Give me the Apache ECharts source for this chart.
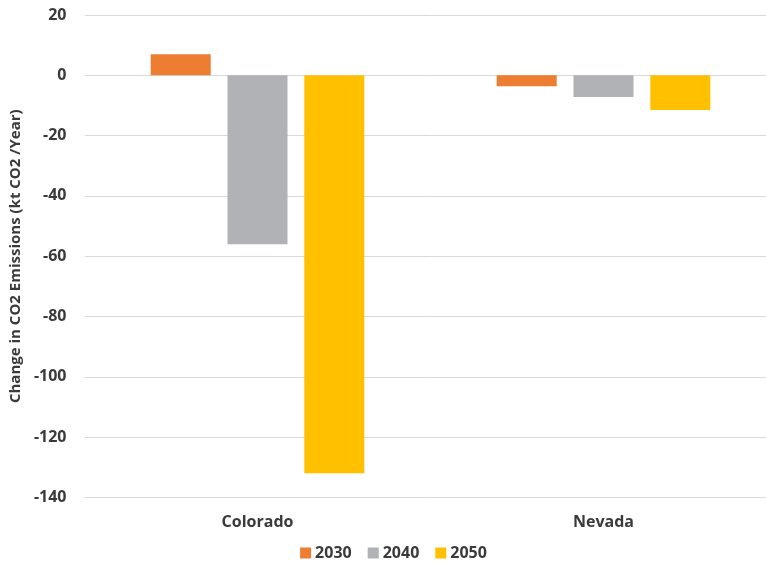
<!DOCTYPE html>
<html>
<head>
<meta charset="utf-8">
<script src="https://cdn.jsdelivr.net/npm/echarts@6/dist/echarts.min.js"></script>
<style>
  html, body { margin: 0; padding: 0; background: #fff; overflow: hidden; }
  #chart { width: 787px; height: 564px; }
</style>
</head>
<body>
<div id="chart"></div>
<script>
// Change in CO2 emissions by state and target year
const states = ['Colorado', 'Nevada'];
const years = ['2030', '2040', '2050'];
const values2030 = [7.0, -3.6];
const values2040 = [-56.0, -7.2];
const values2050 = [-132.0, -11.5];
const yTicks = { min: -140, max: 20, step: 20 };

const colors = ['#ED7D31', '#B1B2B5', '#FFC000'];
const seriesValues = [values2030, values2040, values2050];
const textColor = '#3A3A3A';
const fontFamily = '"Open Sans", "Noto Sans", sans-serif';

const chart = echarts.init(document.getElementById('chart'), null, { renderer: 'canvas' });

chart.setOption({
  animation: false,
  textStyle: { fontFamily: fontFamily },
  grid: { left: 84.5, top: 15, right: 10.5, bottom: 66.6, containLabel: false },
  legend: {
    data: years,
    bottom: -2,
    left: 'center',
    itemWidth: 11,
    itemHeight: 11,
    itemGap: 16,
    icon: 'rect',
    textStyle: { color: textColor, fontSize: 16, fontWeight: 'bold', fontFamily: fontFamily, padding: [0, 0, 0, -1] }
  },
  xAxis: {
    type: 'category',
    data: states,
    position: 'bottom',
    axisLine: { show: false },
    axisTick: { show: false },
    axisLabel: { color: textColor, fontSize: 16, fontWeight: 'bold', margin: 17, fontFamily: fontFamily }
  },
  yAxis: {
    type: 'value',
    min: yTicks.min,
    max: yTicks.max,
    interval: yTicks.step,
    name: 'Change in CO2 Emissions (kt CO2 /Year)',
    nameLocation: 'middle',
    nameGap: 58,
    nameTextStyle: { color: textColor, fontSize: 15, fontWeight: 'bold', fontFamily: fontFamily },
    axisLine: { show: false },
    axisTick: { show: false },
    axisLabel: { color: textColor, fontSize: 16, fontWeight: 'bold', margin: 18, fontFamily: fontFamily },
    splitLine: { lineStyle: { color: '#D9D9D9', width: 1 } }
  },
  series: years.map((y, i) => ({
    name: y,
    type: 'bar',
    data: seriesValues[i],
    barWidth: 60,
    barGap: '28%',
    itemStyle: { color: colors[i] }
  }))
});
</script>
</body>
</html>
